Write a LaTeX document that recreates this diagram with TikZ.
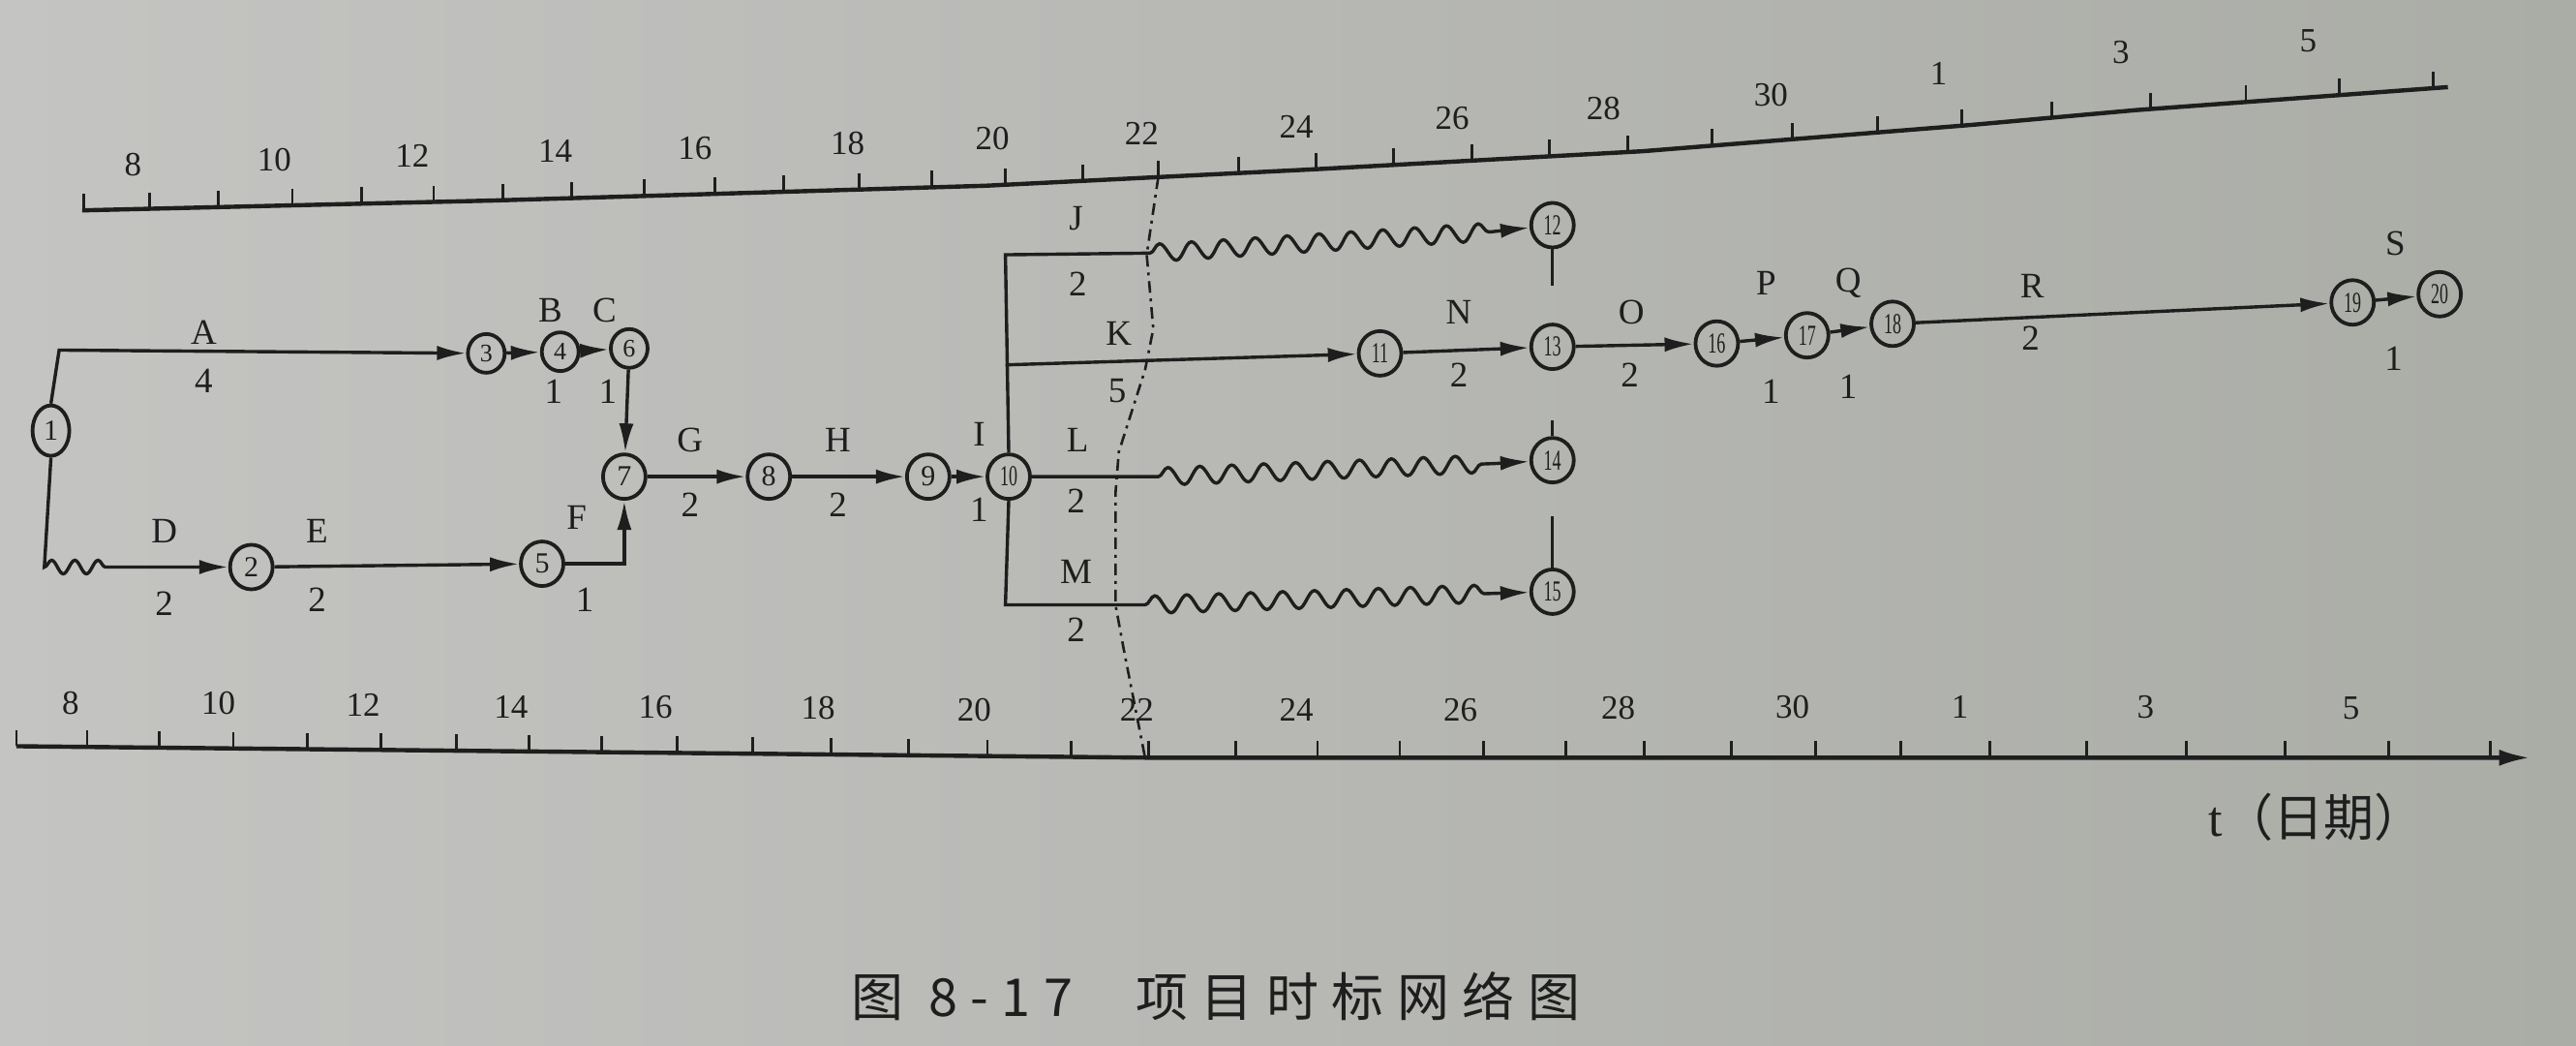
\documentclass[tikz,border=0pt]{standalone}
\usepackage{graphicx}
\usepackage{fontspec}
\setmainfont{Liberation Serif}
\newfontfamily\cjkfont{Noto Sans CJK SC}
\newfontfamily\capfont[LetterSpace=25]{Noto Sans CJK SC}
\usetikzlibrary{arrows.meta,decorations.pathmorphing,shapes.geometric}
\definecolor{ink}{RGB}{30,30,30}
\definecolor{bgL}{RGB}{196,196,194}
\definecolor{bgR}{RGB}{170,172,166}
\newcommand{\dd}[1]{\scalebox{0.6}[1]{#1}}
\begin{document}
\begin{tikzpicture}[x=1.6971pt,y=-1.6971pt,
  ev/.style={ellipse,draw=ink,line width=3.8pt,minimum width=44pt,minimum height=46pt,inner sep=0pt,text=ink,font=\fontsize{30}{30}\selectfont},
  evs/.style={ev,minimum width=38pt,minimum height=40pt,font=\fontsize{26}{26}\selectfont},
  wire/.style={draw=ink,line width=3.4pt},
  arr/.style={wire,-{Latex[length=30pt,width=15pt]}},
  wavedec/.style={decoration={snake,amplitude=9pt,segment length=33pt}},
  wavedecD/.style={decoration={snake,amplitude=7pt,segment length=24pt}},
  lab/.style={text=ink,inner sep=0pt,font=\fontsize{37}{37}\selectfont},
  axnum/.style={text=ink,inner sep=0pt,font=\fontsize{35}{35}\selectfont},
  axline/.style={draw=ink,line width=4.4pt},
  axtick/.style={draw=ink,line width=2.8pt},
  progress/.style={draw=ink,line width=2.6pt,dash pattern=on 12pt off 6pt on 3pt off 6pt}]
\useasboundingbox (0,0) rectangle (1568,636);
\shade[left color=bgL,right color=bgR] (0,0) rectangle (1568,636);

% ---------- top time axis ----------
\draw[axline] (50,128) -- (300,122) -- (600,113) -- (800,103) -- (1000,92) -- (1200,76) -- (1300,67) -- (1490,53);
\foreach \x/\y in {51/128,91/127,133/126,178/124.9,220/123.9,264/122.9,306/121.8,348/120.6,392/119.2,435/118,477/116.7,523/115.3,567/114,612/112.4,659/110,705/107.8,754/105.3,801/102.9,848/100.4,896/97.7,943/95.1,991/92.5,1042/88.6,1091/84.7,1143/80.6,1194/76.5,1249/71.6,1309/66.3,1367/62.1,1424/57.9,1481/53.7}
  \draw[axtick] (\x,\y) -- ++(0,-10);
\foreach \t/\x/\y in {8/81/100,10/167/97,12/251/95,14/338/92,16/423/90,18/516/87,20/604/84,22/695/81,24/789/77,26/884/72,28/976/66,30/1078/58,1/1180/45,3/1291/32,5/1405/25}
  \node[axnum] (top\t) at (\x,\y) {\t};

% ---------- bottom time axis ----------
\draw[axline,-{Latex[length=32pt,width=17pt]}] (10,454) -- (700,461) -- (1540,461);
\foreach \x/\y in {10/454,53/454.4,97/454.9,142/455.3,187/455.8,232/456.3,278/456.7,322/457.2,366/457.6,412/458.1,458/458.5,506/459,553/459.5,601/460,652/460.5,699/461,752/461,802/461,852/461,903/461,953/461,1001/461,1054/461,1105/461,1157/461,1211/461,1270/461,1331/461,1391/461,1454/461,1516/461}
  \draw[axtick] (\x,\y) -- ++(0,-10);
\foreach \t/\x/\y in {8/43/428,10/133/428,12/221/429,14/311/430,16/399/430,18/498/431,20/593/432,22/692/432,24/789/432,26/889/432,28/985/431,30/1091/430,1/1193/430,3/1306/430,5/1431/431}
  \node[axnum] (bot\t) at (\x,\y) {\t};
\node[text=ink,inner sep=0pt,font=\fontsize{52}{52}\selectfont] (tlabel) at (1410,497) {t\cjkfont（日期）};

% ---------- events ----------
\node[ev,minimum width=38pt,minimum height=52pt] (n1) at (31,262) {1};
\node[ev] (n2) at (153,345) {2};
\node[evs] (n3) at (296,215) {3};
\node[evs] (n4) at (341,214) {4};
\node[evs] (n6) at (383,212) {6};
\node[ev] (n5) at (330,343) {5};
\node[ev] (n7) at (380,290) {7};
\node[ev] (n8) at (468,290) {8};
\node[ev] (n9) at (565,290) {9};
\node[ev] (n10) at (614,290) {\dd{10}};
\node[ev] (n12) at (945,137) {\dd{12}};
\node[ev] (n11) at (840,215) {\dd{11}};
\node[ev] (n13) at (945,211) {\dd{13}};
\node[ev] (n14) at (945,280) {\dd{14}};
\node[ev] (n15) at (945,360) {\dd{15}};
\node[ev] (n16) at (1045,209) {\dd{16}};
\node[ev] (n17) at (1100,204) {\dd{17}};
\node[ev] (n18) at (1152,197) {\dd{18}};
\node[ev] (n19) at (1432,184) {\dd{19}};
\node[ev] (n20) at (1485,179) {\dd{20}};

% ---------- bend points ----------
\coordinate (cA) at (36,213);
\coordinate (cD) at (27,345);
\coordinate (wD) at (68,345);
\coordinate (cJ) at (612,155);
\coordinate (cJw) at (700,154);
\coordinate (cJe) at (908,141);
\coordinate (cK) at (612,222);
\coordinate (cLw) at (705,290);
\coordinate (cLe) at (910,282);
\coordinate (cM) at (612,368);
\coordinate (cMw) at (697,368);
\coordinate (cMe) at (910,361);
\coordinate (s12) at (945,174);
\coordinate (s14) at (945,256);
\coordinate (s15) at (945,314);

% ---------- activities ----------
\draw[arr] (n1.north) -- (cA) -- (n3);
\draw[arr] (n3) -- (n4);
\draw[arr] (n4) -- (n6);
\draw[arr] (n6) -- (n7);
\draw[arr] (n1.south) -- (cD) decorate[wavedecD]{-- (wD)} -- (n2);
\draw[arr] (n2) -- (n5);
\draw[arr] (n5) -| (n7);
\draw[arr] (n7) -- (n8);
\draw[arr] (n8) -- (n9);
\draw[arr] (n9) -- (n10);
\draw[arr] (n10.north) -- (cJ) -- (cJw) decorate[wavedec]{-- (cJe)} -- (n12);
\draw[arr] (cK) -- (n11);
\draw[arr] (n10) -- (cLw) decorate[wavedec]{-- (cLe)} -- (n14);
\draw[arr] (n10.south) -- (cM) -- (cMw) decorate[wavedec]{-- (cMe)} -- (n15);
\draw[arr] (n11) -- (n13);
\draw[arr] (n13) -- (n16);
\draw[arr] (n16) -- (n17);
\draw[arr] (n17) -- (n18);
\draw[arr] (n18) -- (n19);
\draw[arr] (n19) -- (n20);
\draw[wire] (n12) -- (s12);
\draw[wire] (s14) -- (n14);
\draw[wire] (s15) -- (n15);

% ---------- progress line ----------
\draw[progress] (705,108) -- (698,155) -- (702,200) -- (697,225) -- (681,275) -- (679,300) -- (679,368) -- (684,395) -- (697,461);

% ---------- activity labels ----------
\foreach \n/\t/\x/\y in {A/A/124/202,A2/4/124/232,B/B/335/189,B2/1/337/238,C/C/368/189,C2/1/370/238,
  D/D/100/323,D2/2/100/367,E/E/193/323,E2/2/193/365,F/F/351/315,F2/1/356/365,
  G/G/420/268,G2/2/420/307,H/H/510/268,H2/2/510/307,I/I/596/264,I2/1/596/310,
  J/J/655/133,J2/2/656/173,K/K/681/203,K2/5/680/238,L/L/656/268,L2/2/655/305,
  M/M/655/348,M2/2/655/383,N/N/888/190,N2/2/888/228,O/O/993/190,O2/2/992/228,
  P/P/1075/172,P2/1/1078/238,Q/Q/1125/172,Q2/1/1125/235,R/R/1237/174,R2/2/1236/206,
  S/S/1458/148,S2/1/1457/218}
  \node[lab] (l\n) at (\x,\y) {\t};

% ---------- caption ----------
\node[text=ink,inner sep=0pt,font=\fontsize{54}{54}\selectfont] (caption) at (740,606) {\capfont 图 8-17\hspace{1.2em}项目时标网络图};
\end{tikzpicture}
\end{document}
